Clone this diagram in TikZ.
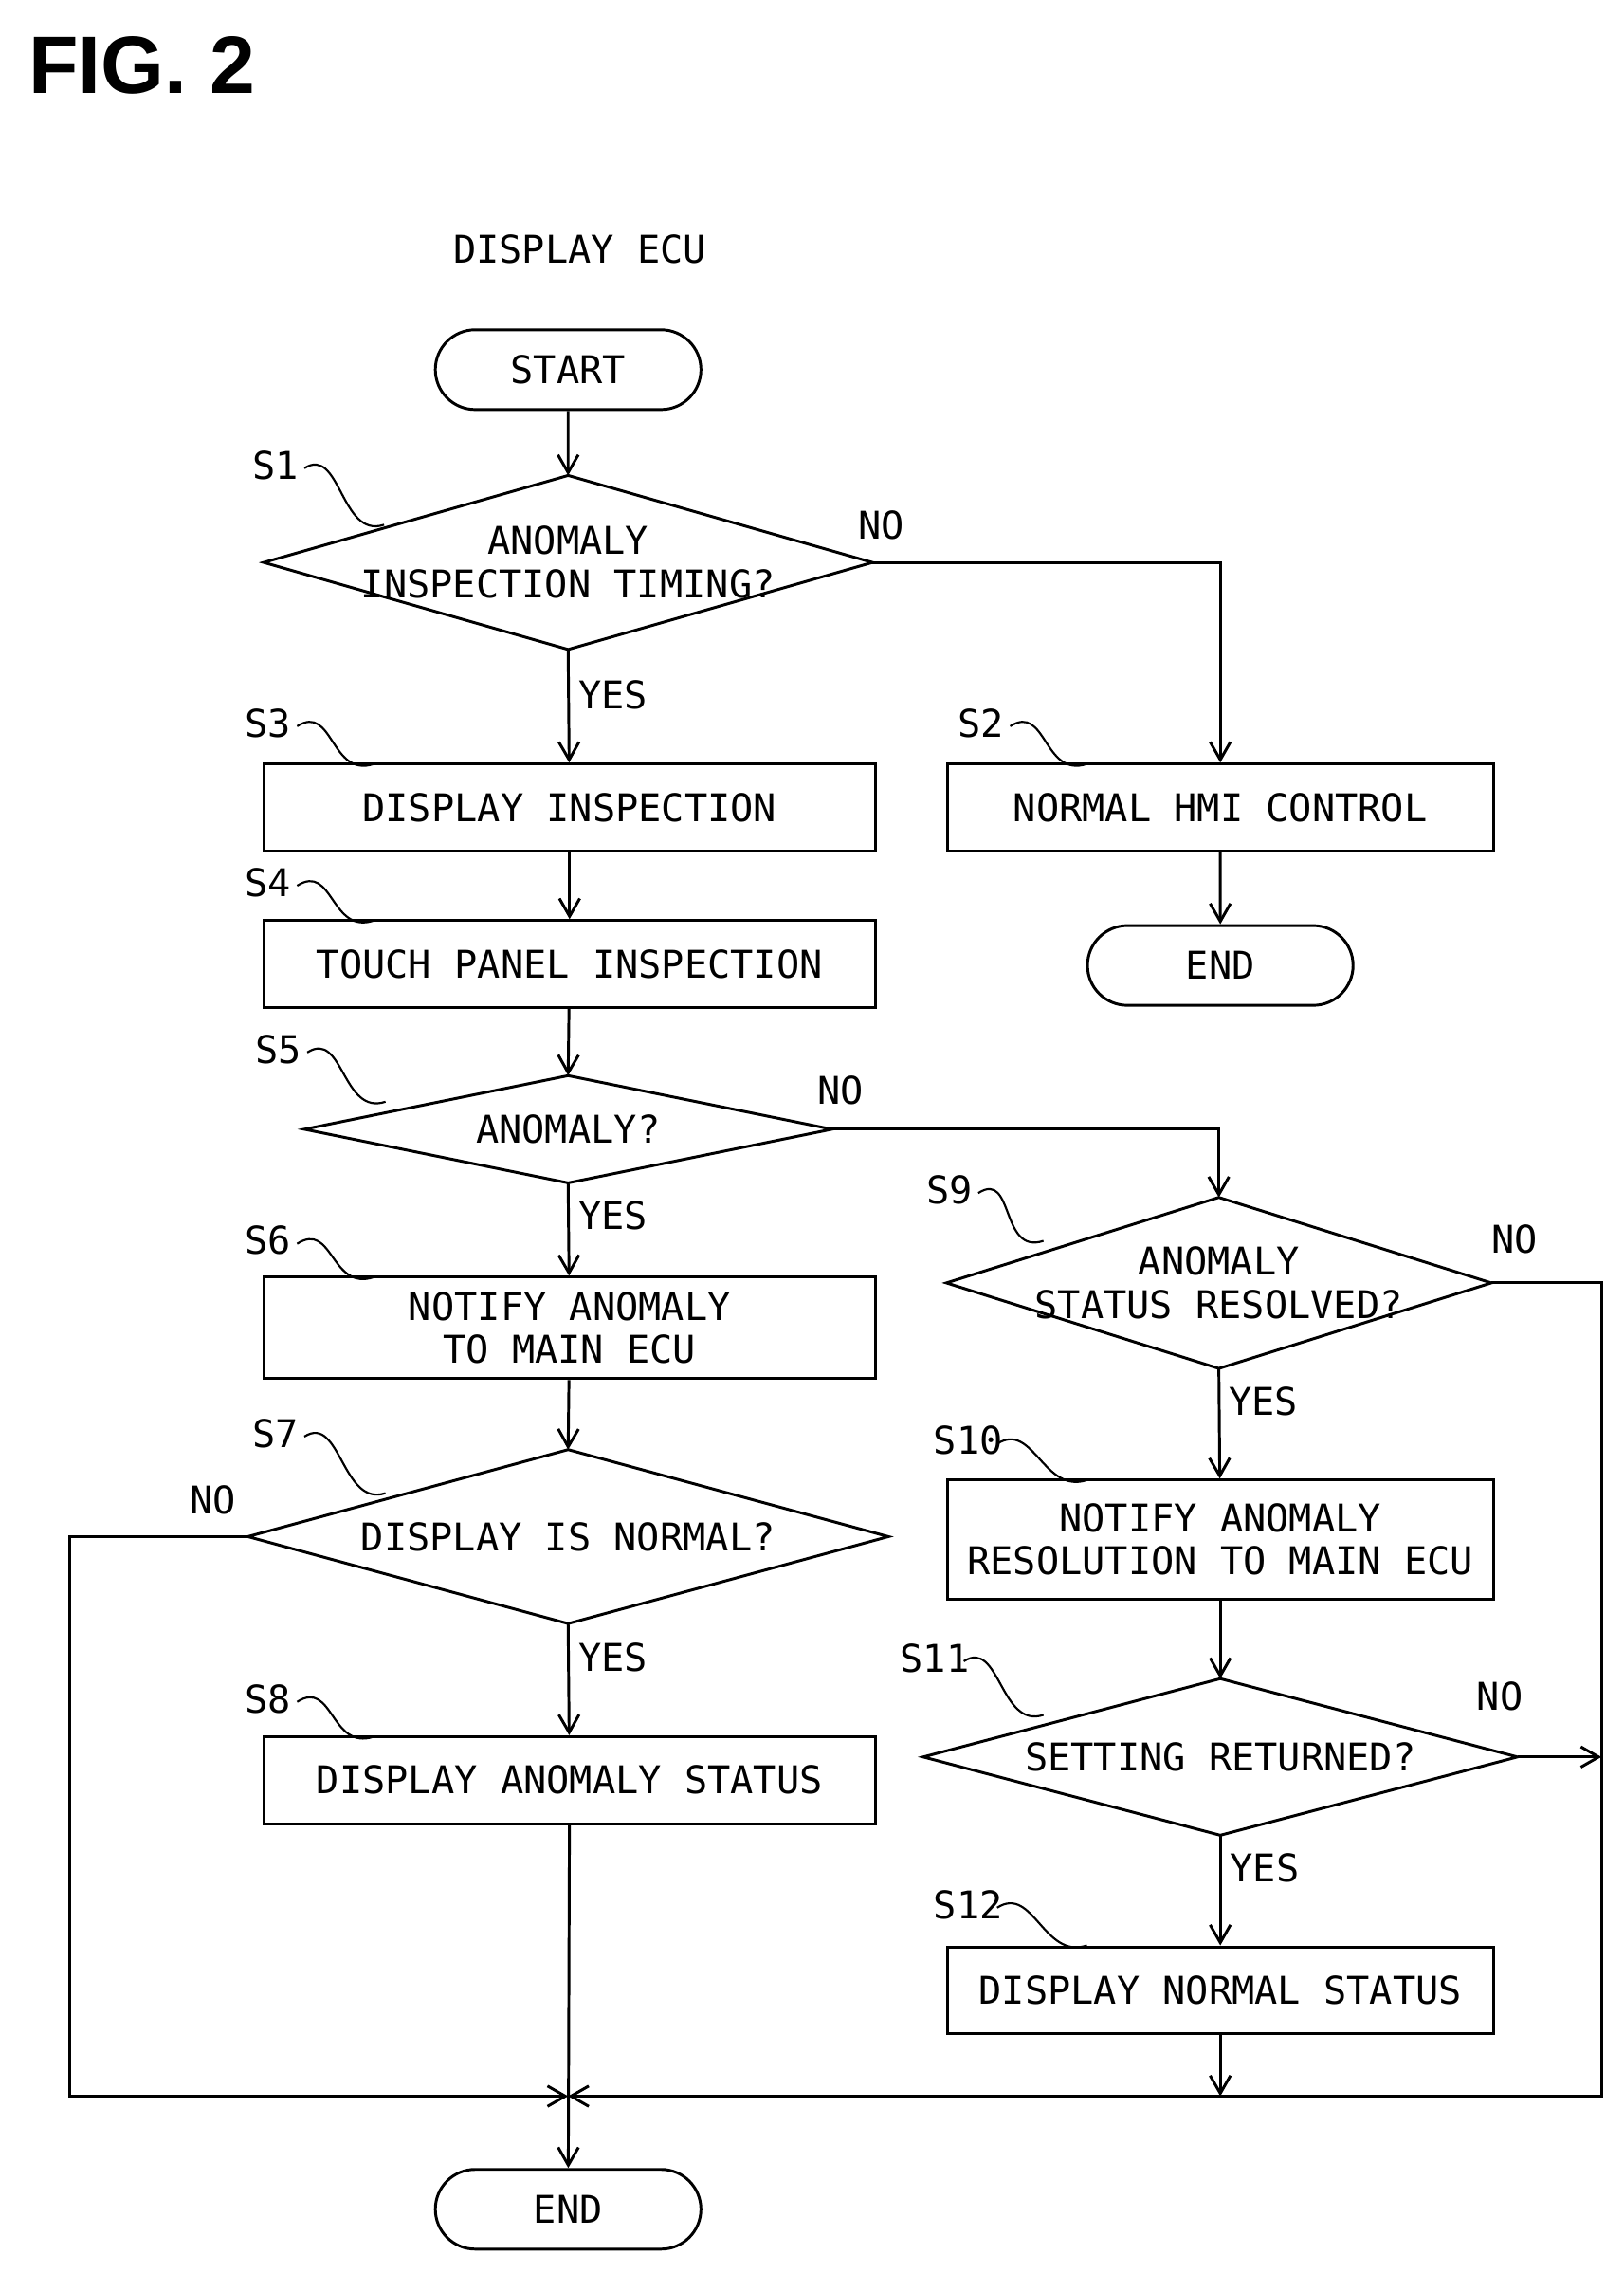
\documentclass[tikz,border=0pt]{standalone}
\usepackage{fontspec}
\setmainfont{DejaVu Sans Mono}
\newfontfamily\figfont{Liberation Sans}
\usetikzlibrary{calc, positioning, shapes.misc, arrows.meta}
\tikzset{
  flow/.style={draw, line width=1.1pt, -{Straight Barb[length=7pt,width=8pt]}},
  line/.style={draw, line width=1.1pt},
  proc/.style={draw, line width=1.1pt, rectangle, minimum width=8.44cm, minimum height=1.2cm, align=center, font=\fontsize{15}{17}\selectfont, inner sep=0pt},
  wproc/.style={proc, minimum width=7.54cm},
  term/.style={draw, line width=1.1pt, rounded rectangle, minimum width=3.9cm, minimum height=1.1cm, font=\fontsize{15}{17}\selectfont},
  lbl/.style={font=\fontsize{15}{17}\selectfont},
  tag/.style={font=\fontsize{15}{17}\selectfont, anchor=south},
  wave/.style={line width=0.8pt}
}
\newcommand\decision[6]{% name, x, y, half width, half height, text
  \coordinate (#1-l) at (#2-#4,#3);
  \coordinate (#1-r) at (#2+#4,#3);
  \coordinate (#1-t) at (#2,#3-#5);
  \coordinate (#1-b) at (#2,#3+#5);
  \draw[line width=1.1pt] (#1-l) -- (#1-t) -- (#1-r) -- (#1-b) -- cycle;
  \node[align=center, font=\fontsize{15}{17}\selectfont, inner sep=0pt] (#1) at (#2,#3) {#6};
}
\newcommand\steptag[5]{% text, label x, label y, target x, target y
  \node[tag] at (#2,#3) {#1};
  \draw[wave] (#2+20,#3-14) .. controls (#2+45,#3-30) and (#4-30,#5+10) .. (#4,#5);
}
\begin{document}
\begin{tikzpicture}[x=0.02cm, y=-0.02cm]
  \useasboundingbox (0,0) rectangle (1120,1568);
  \node[font=\figfont\bfseries\fontsize{32}{36}\selectfont] at (98,45) {FIG. 2};
  \node[lbl] at (400,172) {DISPLAY ECU};
  % left column
  \node[term] (start) at (392,255) {START};
  \decision{s1}{392}{388}{210}{60}{ANOMALY\\INSPECTION TIMING?}
  \node[proc] (s3) at (393,557) {DISPLAY INSPECTION};
  \node[proc] (s4) at (393,665) {TOUCH PANEL INSPECTION};
  \decision{s5}{392}{779}{182}{37}{ANOMALY?}
  \node[proc, minimum height=1.4cm] (s6) at (393,916) {NOTIFY ANOMALY\\TO MAIN ECU};
  \decision{s7}{392}{1060}{221}{60}{DISPLAY IS NORMAL?}
  \node[proc] (s8) at (393,1228) {DISPLAY ANOMALY STATUS};
  \node[term] (end) at (392,1524) {END};
  % right column
  \node[wproc] (s2) at (842,557) {NORMAL HMI CONTROL};
  \node[term] (end2) at (842,666) {END};
  \decision{s9}{841}{885}{188}{59}{ANOMALY\\STATUS RESOLVED?}
  \node[wproc, minimum height=1.64cm] (s10) at (842,1062) {NOTIFY ANOMALY\\RESOLUTION TO MAIN ECU};
  \decision{s11}{842}{1212}{205}{54}{SETTING RETURNED?}
  \node[wproc] (s12) at (842,1373) {DISPLAY NORMAL STATUS};
  \coordinate (join) at (392,1446);
  \coordinate (rjoin) at (842,1446);
  % step labels
  \steptag{S1}{190}{337}{265}{362}
  \steptag{S3}{185}{515}{258}{527}
  \steptag{S4}{185}{625}{258}{635}
  \steptag{S5}{192}{740}{266}{760}
  \steptag{S6}{185}{872}{258}{881}
  \steptag{S7}{190}{1005}{266}{1030}
  \steptag{S8}{185}{1188}{258}{1198}
  \steptag{S2}{677}{515}{750}{527}
  \steptag{S9}{655}{837}{720}{856}
  \steptag{S10}{668}{1010}{750}{1021}
  \steptag{S11}{645}{1160}{720}{1183}
  \steptag{S12}{668}{1330}{750}{1342}
  % connectors
  \draw[flow] (start) -- (s1-t);
  \draw[flow] (s1-b) -- node[lbl, right, pos=0.4] {YES} (s3);
  \draw[flow] (s1-r) -| (s2);
  \node[lbl] at (608,362) {NO};
  \draw[flow] (s2) -- (end2);
  \draw[flow] (s3) -- (s4);
  \draw[flow] (s4) -- (s5-t);
  \draw[flow] (s5-b) -- node[lbl, right, pos=0.35] {YES} (s6);
  \draw[flow] (s5-r) -| (s9-t);
  \node[lbl] at (580,752) {NO};
  \draw[flow] (s6) -- (s7-t);
  \draw[flow] (s7-b) -- node[lbl, right, pos=0.3] {YES} (s8);
  \draw[flow] (s7-l) -- (48,1060) |- (join);
  \node[lbl] at (147,1035) {NO};
  \draw[flow] (s8) -- (end);
  \draw[flow] (s9-b) -- node[lbl, right, pos=0.3] {YES} (s10);
  \draw[flow] (s9-r) -- (1105,885) |- (join);
  \node[lbl] at (1045,855) {NO};
  \draw[flow] (s10) -- (s11-t);
  \draw[flow] (s11-b) -- node[lbl, right, pos=0.3] {YES} (s12);
  \draw[flow] (s11-r) -- (1105,1212);
  \node[lbl] at (1035,1170) {NO};
  \draw[flow] (s12) -- (rjoin);
\end{tikzpicture}
\end{document}
